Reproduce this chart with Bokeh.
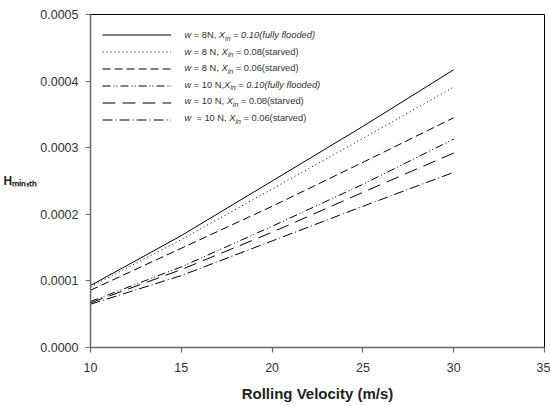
import math
from bokeh.plotting import figure
from bokeh.models import (Range1d, FixedTicker, PrintfTickFormatter, Legend, LegendItem, Label)
from bokeh.embed import file_html
from bokeh.resources import INLINE

# ---------------- data ----------------
velocity = [10, 15, 20, 25, 30]
h_w8_x010 = [0.000093, 0.000168, 0.000250, 0.000332, 0.000417]
h_w8_x008 = [0.000091, 0.000162, 0.000238, 0.000314, 0.000391]
h_w8_x006 = [0.000086, 0.000149, 0.000212, 0.000278, 0.000345]
h_w10_x010 = [0.000069, 0.000121, 0.000182, 0.000245, 0.000313]
h_w10_x008 = [0.000067, 0.000117, 0.000173, 0.000233, 0.000292]
h_w10_x006 = [0.000065, 0.000108, 0.000160, 0.000212, 0.000263]
x_ticks = [10, 15, 20, 25, 30, 35]
y_ticks = [0.0, 0.0001, 0.0002, 0.0003, 0.0004, 0.0005]

series = [h_w8_x010, h_w8_x008, h_w8_x006, h_w10_x010, h_w10_x008, h_w10_x006]
dashes = ["solid", "1 3", "8 4", "8 3 1 2 1 3", "13 7", "10 3 1 3"]

# legend texts: (text, italic, subscript)
legend_rows = [
    [("w", True, False), (" = 8N, ", False, False), ("X", True, False), ("in", True, True), (" = 0.10(fully flooded)", True, False)],
    [("w", True, False), (" = 8 N, ", False, False), ("X", True, False), ("in", True, True), (" = 0.08(starved)", False, False)],
    [("w", True, False), (" = 8 N, ", False, False), ("X", True, False), ("in", True, True), (" = 0.06(starved)", False, False)],
    [("w", True, False), (" = 10 N,", False, False), ("X", True, False), ("in", True, True), (" = 0.10(fully flooded)", True, False)],
    [("w", True, False), (" = 10 N, ", False, False), ("X", True, False), ("in", True, True), (" = 0.08(starved)", False, False)],
    [("w", True, False), ("  = 10 N, ", False, False), ("X", True, False), ("in", True, True), (" = 0.06(starved)", False, False)],
]
y_label = "H\u2098\u1d62\u2099,\u209c\u2095"   # H with subscript "min,th"
x_label = "Rolling Velocity (m/s)"

FONT = "Liberation Sans"
TXT = "#333333"

p = figure(width=550, height=406, output_backend="svg", toolbar_location=None,
           x_range=Range1d(10, 35), y_range=Range1d(0, 0.0005),
           min_border_left=90, min_border_right=6, min_border_top=14, min_border_bottom=59)
p.background_fill_color = "white"
p.border_fill_color = "white"
p.outline_line_color = "black"
p.outline_line_width = 1
p.xgrid.visible = False
p.ygrid.visible = False

for ax in (p.xaxis[0], p.yaxis[0]):
    ax.axis_line_color = "#6a6a6a"
    ax.axis_line_width = 1.5
    ax.major_tick_line_color = "#6a6a6a"
    ax.major_tick_line_width = 1.2
    ax.major_tick_out = 5
    ax.major_tick_in = 0
    ax.minor_tick_out = 0
    ax.minor_tick_in = 0
    ax.major_label_text_font = FONT
    ax.major_label_text_font_size = "12.5px"
    ax.major_label_text_color = TXT
    ax.axis_label_text_font = FONT
    ax.axis_label_text_font_style = "bold"
    ax.axis_label_text_color = "#222222"

p.xaxis.ticker = FixedTicker(ticks=x_ticks)
p.yaxis.ticker = FixedTicker(ticks=y_ticks)
p.yaxis.formatter = PrintfTickFormatter(format="%.4f")
p.xaxis.major_label_standoff = 10
p.yaxis.major_label_standoff = 7

p.xaxis.axis_label = x_label
p.xaxis.axis_label_text_font_size = "15px"
p.xaxis.axis_label_standoff = 10
p.yaxis.axis_label = y_label
p.yaxis.axis_label_text_font_size = "12px"
p.yaxis.axis_label_standoff = 0
p.yaxis.axis_label_orientation = "horizontal"

renderers = []
for ys, d in zip(series, dashes):
    r = p.line(velocity, ys, line_color="black", line_width=1, line_dash=d)
    renderers.append(r)

legend = Legend(items=[LegendItem(label=" ", renderers=[r]) for r in renderers],
                location=(12, 219.5), orientation="vertical",
                glyph_width=69, glyph_height=17, label_height=17, label_width=1,
                label_standoff=0, spacing=0, padding=0, margin=0,
                border_line_alpha=0, background_fill_alpha=0,
                label_text_font_size="1px")
p.add_layout(legend, "center")

# Arial/Liberation Sans advance widths (per 1000 em)
W = {' ': 278, '(': 333, ')': 333, ',': 278, '.': 278, '=': 584, '0': 556, '1': 556,
     '6': 556, '8': 556, 'N': 722, 'X': 667, 'a': 556, 'd': 556, 'e': 556, 'f': 278,
     'i': 222, 'l': 222, 'n': 556, 'o': 556, 'r': 333, 's': 500, 't': 278, 'u': 556,
     'v': 500, 'w': 722, 'y': 500}

def tw(s, size):
    return sum(W.get(c, 556) for c in s) * size / 1000.0

FS = 9.3
SUB = 7.0
# offsets relative to frame top-left (data 10, 0.0005)
text_x0 = 94
for k, row in enumerate(legend_rows):
    base = -(20.5 + 16.6 * k)
    x = text_x0
    for txt, ital, sub in row:
        size = SUB if sub else FS
        lead = len(txt) - len(txt.lstrip(" "))
        xs = x + tw(txt[:lead], size)
        p.add_layout(Label(x=10, y=0.0005, x_offset=xs, y_offset=base - (3 if sub else 0),
                           text=txt.strip(" "), text_font=FONT, text_font_size=f"{size}px",
                           text_font_style="italic" if ital else "normal",
                           text_color=TXT, text_align="left", text_baseline="alphabetic"))
        x += tw(txt, size)

open("out.html", "w").write(file_html(p, INLINE))
